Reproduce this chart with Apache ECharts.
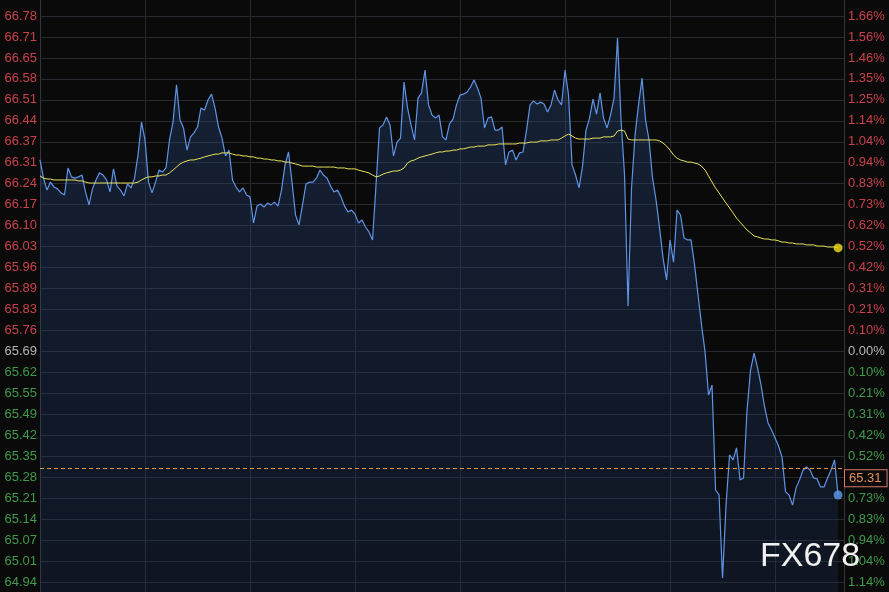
<!DOCTYPE html>
<html><head><meta charset="utf-8">
<script src="https://cdn.jsdelivr.net/npm/echarts@6/dist/echarts.min.js"></script>
<style>html,body{margin:0;padding:0;background:#0a0a0a;overflow:hidden}#c{width:889px;height:592px}</style>
</head><body><div id="c"></div>
<script>
const prices = [
66.312,66.253,66.214,66.240,66.224,66.218,66.205,66.198,66.286,66.257,
66.253,66.257,66.263,66.208,66.166,66.218,66.247,66.270,66.263,66.247,
66.208,66.283,66.227,66.214,66.195,66.234,66.221,66.253,66.328,66.435,
66.377,66.240,66.205,66.240,66.279,66.273,66.286,66.377,66.435,66.556,
66.442,66.416,66.344,66.387,66.400,66.419,66.481,66.474,66.507,66.526,
66.481,66.419,66.383,66.325,66.344,66.247,66.224,66.208,66.221,66.198,
66.192,66.107,66.162,66.169,66.159,66.172,66.166,66.175,66.162,66.214,
66.296,66.338,66.240,66.133,66.101,66.166,66.234,66.240,66.240,66.253,
66.279,66.263,66.253,66.227,66.208,66.214,66.192,66.162,66.143,66.149,
66.136,66.107,66.117,66.094,66.078,66.052,66.231,66.416,66.426,66.452,
66.426,66.325,66.370,66.383,66.565,66.481,66.426,66.377,66.513,66.530,
66.604,66.491,66.458,66.448,66.458,66.387,66.377,66.429,66.445,66.491,
66.523,66.526,66.533,66.549,66.572,66.546,66.513,66.416,66.448,66.452,
66.409,66.409,66.419,66.296,66.338,66.344,66.312,66.335,66.338,66.409,
66.491,66.504,66.494,66.500,66.494,66.468,66.491,66.539,66.507,66.491,
66.604,66.523,66.296,66.263,66.221,66.292,66.409,66.448,66.510,66.461,
66.530,66.448,66.416,66.458,66.513,66.708,66.442,66.263,65.837,66.221,
66.393,66.491,66.578,66.442,66.377,66.253,66.182,66.091,65.993,65.922,
66.052,65.980,66.149,66.133,66.058,66.052,66.052,65.971,65.873,65.775,
65.688,65.548,65.580,65.239,65.223,64.953,65.190,65.353,65.337,65.376,
65.272,65.278,65.499,65.629,65.684,65.636,65.580,65.509,65.457,65.434,
65.408,65.382,65.346,65.233,65.223,65.190,65.246,65.272,65.304,65.314,
65.304,65.278,65.275,65.249,65.249,65.278,65.304,65.337,65.223
];
const avgPrices = [
66.260,66.253,66.250,66.250,66.247,66.247,66.247,66.247,66.247,66.247,
66.247,66.244,66.244,66.240,66.237,66.237,66.237,66.237,66.237,66.237,
66.237,66.237,66.237,66.237,66.237,66.237,66.237,66.237,66.240,66.247,
66.253,66.257,66.257,66.260,66.260,66.263,66.263,66.270,66.279,66.289,
66.299,66.305,66.309,66.312,66.312,66.315,66.318,66.322,66.325,66.328,
66.331,66.331,66.335,66.335,66.335,66.331,66.328,66.328,66.325,66.325,
66.322,66.322,66.318,66.318,66.315,66.315,66.312,66.312,66.309,66.309,
66.305,66.305,66.302,66.299,66.296,66.292,66.292,66.292,66.292,66.289,
66.289,66.289,66.289,66.289,66.289,66.286,66.286,66.286,66.283,66.283,
66.283,66.279,66.276,66.273,66.270,66.263,66.257,66.260,66.266,66.270,
66.273,66.276,66.276,66.279,66.286,66.302,66.309,66.312,66.318,66.322,
66.325,66.328,66.331,66.335,66.338,66.338,66.341,66.341,66.344,66.344,
66.348,66.348,66.351,66.354,66.354,66.357,66.357,66.357,66.361,66.361,
66.361,66.364,66.364,66.364,66.364,66.364,66.364,66.367,66.367,66.367,
66.370,66.370,66.370,66.374,66.374,66.374,66.377,66.377,66.377,66.383,
66.390,66.396,66.390,66.383,66.380,66.380,66.380,66.380,66.383,66.383,
66.383,66.387,66.387,66.387,66.390,66.406,66.409,66.406,66.380,66.377,
66.377,66.377,66.377,66.377,66.377,66.377,66.377,66.374,66.367,66.357,
66.344,66.328,66.318,66.312,66.309,66.305,66.305,66.302,66.299,66.292,
66.279,66.260,66.240,66.221,66.205,66.188,66.172,66.156,66.140,66.123,
66.110,66.097,66.084,66.075,66.065,66.062,66.058,66.055,66.055,66.052,
66.052,66.049,66.045,66.045,66.042,66.042,66.039,66.039,66.039,66.036,
66.036,66.036,66.032,66.032,66.032,66.029,66.029,66.029,66.026
];
// tick labels, top to bottom
const priceTicks = ['66.78','66.71','66.65','66.58','66.51','66.44','66.37','66.31','66.24','66.17','66.10','66.03','65.96','65.89','65.83','65.76','65.69','65.62','65.55','65.49','65.42','65.35','65.28','65.21','65.14','65.07','65.01','64.94'];
const pctTicks = ['1.66%','1.56%','1.46%','1.35%','1.25%','1.14%','1.04%','0.94%','0.83%','0.73%','0.62%','0.52%','0.42%','0.31%','0.21%','0.10%','0.00%','0.10%','0.21%','0.31%','0.42%','0.52%','0.62%','0.73%','0.83%','0.94%','1.04%','1.14%'];
const prevCloseLabel = '65.69';
const refPrice = 65.31;
const refLabel = '65.31';

const chart = echarts.init(document.getElementById('c'));
const n = prices.length;
const priceData = prices.map((p, i) => [i, p]);
const avgData = avgPrices.map((p, i) => [i, p]);
const nT = priceTicks.length - 1;
const zeroIdx = nT - priceTicks.indexOf(prevCloseLabel);
const FONT = 'Liberation Sans, Arial, sans-serif';
function cls(v) { return v > zeroIdx ? 'up' : (v < zeroIdx ? 'dn' : 'fl'); }
const rich = {
  up: {color: '#c9414a', fontSize: 13, fontFamily: FONT},
  dn: {color: '#3f9a4b', fontSize: 13, fontFamily: FONT},
  fl: {color: '#b5b5b5', fontSize: 13, fontFamily: FONT}
};
const gridColor = '#26292e';
const option = {
  backgroundColor: '#0a0a0a',
  animation: false,
  grid: [
    {left: 40, right: 45, top: 0, bottom: 0},
    {left: 40, right: 45, top: 16, bottom: 10}
  ],
  xAxis: [
    {gridIndex: 0, type: 'value', min: 0, max: 229.7, interval: 30,
     axisLine: {show: false}, axisTick: {show: false}, axisLabel: {show: false},
     splitLine: {show: true, lineStyle: {color: gridColor, width: 1}}},
    {gridIndex: 1, type: 'value', min: 0, max: 229.7, show: false}
  ],
  yAxis: [
    {gridIndex: 0, type: 'value', min: 64.9075, max: 66.832, position: 'left',
     axisLine: {show: true, lineStyle: {color: '#33363b'}}, axisTick: {show: false},
     axisLabel: {show: false}, splitLine: {show: false}},
    {gridIndex: 0, type: 'value', min: 64.9075, max: 66.832, position: 'right',
     axisLine: {show: true, lineStyle: {color: '#33363b'}}, axisTick: {show: false},
     axisLabel: {show: false}, splitLine: {show: false}},
    {gridIndex: 1, type: 'value', min: 0, max: nT, interval: 1, position: 'left',
     axisLine: {show: false}, axisTick: {show: false},
     axisLabel: {margin: 3, formatter: v => { const k = Math.round(v); return '{' + cls(k) + '|' + priceTicks[nT - k] + '}'; }, rich: rich},
     splitLine: {show: true, lineStyle: {color: gridColor, width: 1}}},
    {gridIndex: 1, type: 'value', min: 0, max: nT, interval: 1, position: 'right',
     axisLine: {show: false}, axisTick: {show: false},
     axisLabel: {margin: 4, formatter: v => { const k = Math.round(v); return '{' + cls(k) + '|' + pctTicks[nT - k] + '}'; }, rich: rich},
     splitLine: {show: false}}
  ],
  series: [
    {
      type: 'line', xAxisIndex: 0, yAxisIndex: 0, data: priceData,
      showSymbol: false, symbol: 'none', z: 3,
      lineStyle: {color: '#5f93e6', width: 1.2},
      areaStyle: {origin: 'start', color: new echarts.graphic.LinearGradient(0, 0, 0, 1, [
        {offset: 0, color: 'rgba(45,80,140,0.48)'},
        {offset: 1, color: 'rgba(30,55,105,0.36)'}
      ])},
      markLine: {
        silent: true, symbol: ['none', 'none'],
        data: [{yAxis: refPrice}],
        lineStyle: {color: '#e29a3e', type: [4, 3], width: 1},
        label: {show: true, position: 'end', formatter: refLabel, color: '#e8905a',
          fontSize: 13, fontFamily: FONT, backgroundColor: '#0a0a0a',
          borderColor: '#d9776b', borderWidth: 1, padding: [2, 5, 1, 4],
          distance: 1, offset: [0, 10]}
      }
    },
    {
      type: 'line', xAxisIndex: 0, yAxisIndex: 0, data: avgData,
      showSymbol: false, symbol: 'none', z: 4,
      lineStyle: {color: '#e6e35c', width: 1}
    },
    {
      type: 'scatter', xAxisIndex: 0, yAxisIndex: 0, z: 5,
      data: [[n - 1, avgPrices[n - 1]]], symbolSize: 9,
      itemStyle: {color: '#f2de12'}
    },
    {
      type: 'scatter', xAxisIndex: 0, yAxisIndex: 0, z: 5,
      data: [[n - 1, prices[n - 1]]], symbolSize: 9,
      itemStyle: {color: '#5e9cf0'}
    }
  ],
  graphic: [{
    type: 'text', left: 760, top: 540, z: 100,
    style: {text: 'FX678', fill: '#f0f0f0', font: '34px ' + FONT}
  }]
};
chart.setOption(option);
</script>
</body></html>
